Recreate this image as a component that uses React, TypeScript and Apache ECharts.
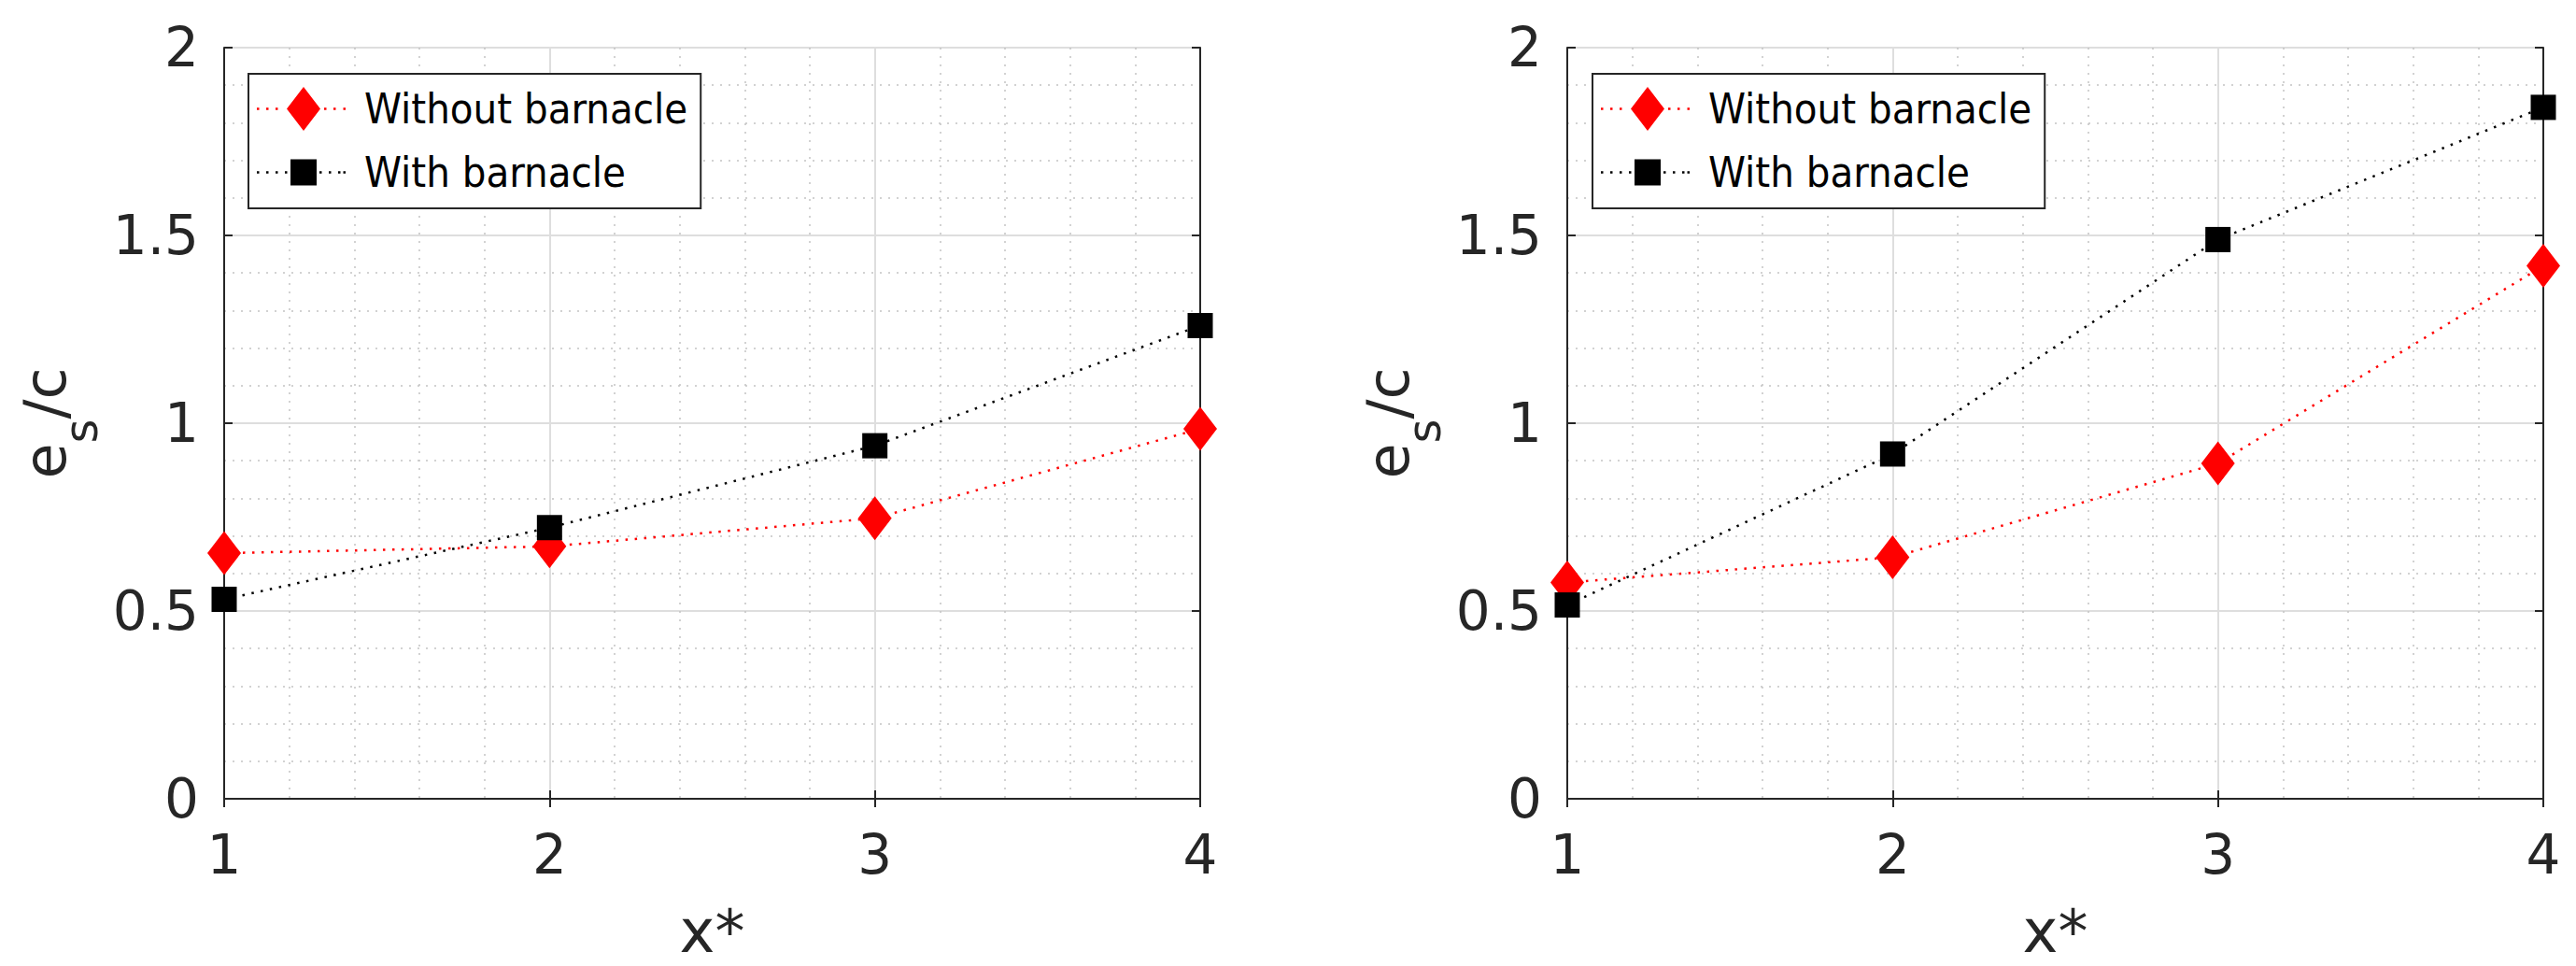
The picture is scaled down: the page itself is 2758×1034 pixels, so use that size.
import React, { useEffect, useRef } from "react";
import * as echarts from "echarts";

// ---- data ----
const X_VALUES = [1, 2, 3, 4];
const SERIES_NAMES = ["Without barnacle", "With barnacle"];
const LEFT_WITHOUT = [0.654, 0.672, 0.747, 0.985];
const LEFT_WITH = [0.531, 0.722, 0.94, 1.26];
const RIGHT_WITHOUT = [0.576, 0.643, 0.893, 1.419];
const RIGHT_WITH = [0.516, 0.918, 1.489, 1.841];
const X_NAME = "x*";
const Y_NAME = "{e|e}{s|s}{e|/c}";

const AXIS_COLOR = "#262626";
const FONT = "DejaVu Sans";

function dots(xs: number[]) {
  return xs.map((x) => `M${x} 22.25h2.5v2.5h-2.5Z`).join("");
}
const DIAMOND_ICON =
  "path://" + dots([0, 10, 20]) + "M50 0L68 23.5L50 47L32 23.5Z" + dots([72, 82, 92.5]) + "M0 0M95 47";
const SQUARE_ICON =
  "path://" + dots([0, 10, 20, 30]) + "M36 9.5h28v28h-28Z" + dots([67, 77, 87, 92.5]) + "M0 0M95 47";

export default function App() {
  const ref = useRef<HTMLDivElement>(null);
  useEffect(() => {
    if (!ref.current) return;
    const chart = echarts.init(ref.current, undefined, { renderer: "svg" });

    const grids = [
      { left: 240, top: 51, width: 1045, height: 806 },
      { left: 1678, top: 51, width: 1045, height: 806 },
    ];

    const xAxes: any[] = [];
    const yAxes: any[] = [];
    grids.forEach((_, gi) => {
      xAxes.push({
        type: "value",
        gridIndex: gi,
        position: "bottom",
        min: 1,
        max: 4,
        interval: 1,
        name: X_NAME,
        nameLocation: "middle",
        nameGap: 110,
        nameTextStyle: { fontSize: 64, fontFamily: FONT, color: AXIS_COLOR },
        axisLine: { show: true, lineStyle: { color: AXIS_COLOR, width: 2 } },
        axisTick: { show: true, inside: true, length: 9, lineStyle: { color: AXIS_COLOR, width: 2 } },
        axisLabel: { fontSize: 58, fontFamily: FONT, color: AXIS_COLOR, margin: 31 },
        splitLine: { show: true, lineStyle: { color: "#dedede", width: 2 } },
        minorTick: { show: false, splitNumber: 5 },
        minorSplitLine: { show: true, lineStyle: { color: "#c4c4c4", width: 1.5, type: [2, 7] } },
      });
      xAxes.push({
        type: "value",
        gridIndex: gi,
        position: "top",
        min: 1,
        max: 4,
        interval: 1,
        axisLine: { show: true, lineStyle: { color: AXIS_COLOR, width: 2 } },
        axisTick: { show: true, inside: true, length: 9, lineStyle: { color: AXIS_COLOR, width: 2 } },
        axisLabel: { show: false },
        splitLine: { show: false },
      });
      yAxes.push({
        type: "value",
        gridIndex: gi,
        position: "left",
        min: 0,
        max: 2,
        interval: 0.5,
        name: Y_NAME,
        nameLocation: "middle",
        nameGap: 113,
        nameTextStyle: {
          rich: {
            e: { fontSize: 62, fontFamily: FONT, color: AXIS_COLOR, lineHeight: 62, verticalAlign: "top" },
            s: {
              fontSize: 50,
              fontFamily: FONT,
              color: AXIS_COLOR,
              lineHeight: 110,
              verticalAlign: "top",
              padding: [45, 0, 0, 0],
            },
          },
        },
        axisLine: { show: true, lineStyle: { color: AXIS_COLOR, width: 2 } },
        axisTick: { show: true, inside: true, length: 9, lineStyle: { color: AXIS_COLOR, width: 2 } },
        axisLabel: { fontSize: 58, fontFamily: FONT, color: AXIS_COLOR, margin: 27 },
        splitLine: { show: true, lineStyle: { color: "#dedede", width: 2 } },
        minorTick: { show: false, splitNumber: 5 },
        minorSplitLine: { show: true, lineStyle: { color: "#c4c4c4", width: 1.5, type: [2, 7] } },
      });
      yAxes.push({
        type: "value",
        gridIndex: gi,
        position: "right",
        min: 0,
        max: 2,
        interval: 0.5,
        axisLine: { show: true, lineStyle: { color: AXIS_COLOR, width: 2 } },
        axisTick: { show: true, inside: true, length: 9, lineStyle: { color: AXIS_COLOR, width: 2 } },
        axisLabel: { show: false },
        splitLine: { show: false },
      });
    });

    const makeSeries = (name: string, vals: number[], gi: number, red: boolean) => ({
      name,
      type: "line",
      xAxisIndex: gi * 2,
      yAxisIndex: gi * 2,
      data: X_VALUES.map((x, i) => [x, vals[i]]),
      symbol: red ? "diamond" : "rect",
      symbolSize: red ? [36, 47] : 27,
      clip: false,
      itemStyle: { color: red ? "#ff0000" : "#000000" },
      lineStyle: { color: red ? "#ff0000" : "#000000", width: 2.5, type: [2.5, 7.5] },
      z: red ? 3 : 4,
    });

    const legendCommon = {
      orient: "vertical",
      align: "left",
      top: 79,
      itemWidth: 95,
      itemHeight: 47,
      itemGap: 21,
      padding: [14, 14, 15, 9],
      borderColor: AXIS_COLOR,
      borderWidth: 2,
      backgroundColor: "#ffffff",
      selectedMode: false,
      itemStyle: { borderWidth: 0 },
      textStyle: {
        fontSize: 45,
        fontFamily: "Liberation Sans Narrow, DejaVu Sans Condensed, sans-serif",
        color: "#000000",
        padding: [0, 0, 0, 15],
      },
      data: [
        { name: SERIES_NAMES[0], icon: DIAMOND_ICON },
        { name: SERIES_NAMES[1], icon: SQUARE_ICON },
      ],
    };

    chart.setOption({
      animation: false,
      backgroundColor: "#ffffff",
      grid: grids,
      xAxis: xAxes,
      yAxis: yAxes,
      legend: [
        { ...legendCommon, left: 266 },
        { ...legendCommon, left: 1705 },
      ],
      series: [
        makeSeries(SERIES_NAMES[0], LEFT_WITHOUT, 0, true),
        makeSeries(SERIES_NAMES[1], LEFT_WITH, 0, false),
        makeSeries(SERIES_NAMES[0], RIGHT_WITHOUT, 1, true),
        makeSeries(SERIES_NAMES[1], RIGHT_WITH, 1, false),
      ],
    });
    return () => chart.dispose();
  }, []);
  return (
    <div
      ref={ref}
      style={{ position: "absolute", left: 0, top: 0, width: 2758, height: 1034 }}
    />
  );
}
